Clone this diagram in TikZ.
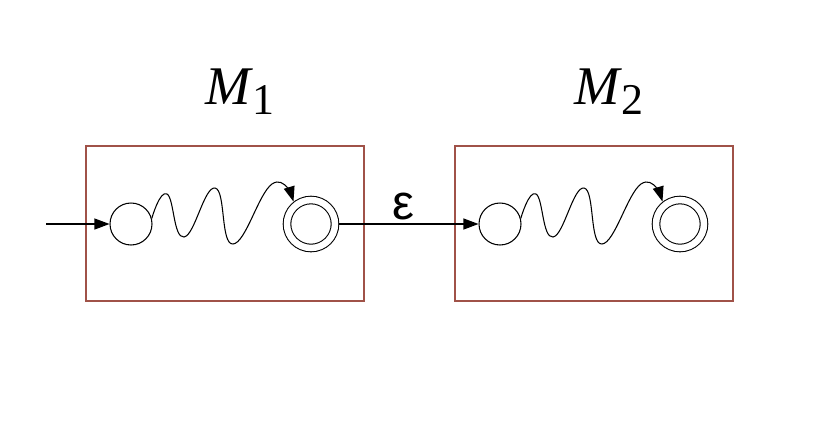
\documentclass[tikz,border=0pt]{standalone}
\usepackage{fontspec}
\setmainfont{Liberation Serif}
\newfontfamily\epsfont{Liberation Sans}
\usetikzlibrary{arrows.meta}
\definecolor{boxred}{RGB}{160,82,72}
\newcommand\machlabel[1]{\textit{M}\raisebox{-5.7pt}{\fontsize{25}{25}\selectfont #1}}

\begin{document}
\begin{tikzpicture}[x=0.02cm, y=-0.02cm, >={Triangle[length=0.3cm,width=0.22cm]}, line width=0.6pt,
    machine/.style={draw=boxred, line width=0.8pt, minimum width=5.56cm, minimum height=3.1cm, inner sep=0pt},
    state/.style={draw, circle, minimum size=0.84cm, inner sep=0pt},
    accepting/.style={state, minimum size=0.96cm, double, double distance=0.13cm, outer sep=0.09cm}]
  \useasboundingbox (0,0) rectangle (826,424);
  % two machines, the second one shifted to the right
  \foreach \i/\dx in {1/0, 2/369} {
    \node[machine] (box\i) at (\dx+225,223.5) {};
    \node[font=\fontsize{31}{31}\selectfont] (lab\i) at (\dx+240,92) {\machlabel{\i}};
    \node[state] (s\i) at (\dx+131,224) {};
    \node[accepting] (f\i) at (\dx+311,224) {};
    \draw[->] plot[smooth, tension=0.8] coordinates {(s\i.15) (\dx+167,194) (\dx+184,237) (\dx+215,188) (\dx+233,244) (\dx+272,184) (f\i.128)};
  }
  \coordinate (init) at (46,224);
  \draw[->] (init) -- (s1);
  \draw[->] (f1) -- (s2);
  \node[font=\epsfont\fontsize{28}{28}\selectfont] (eps) at (403,206) {ε};
\end{tikzpicture}
\end{document}
